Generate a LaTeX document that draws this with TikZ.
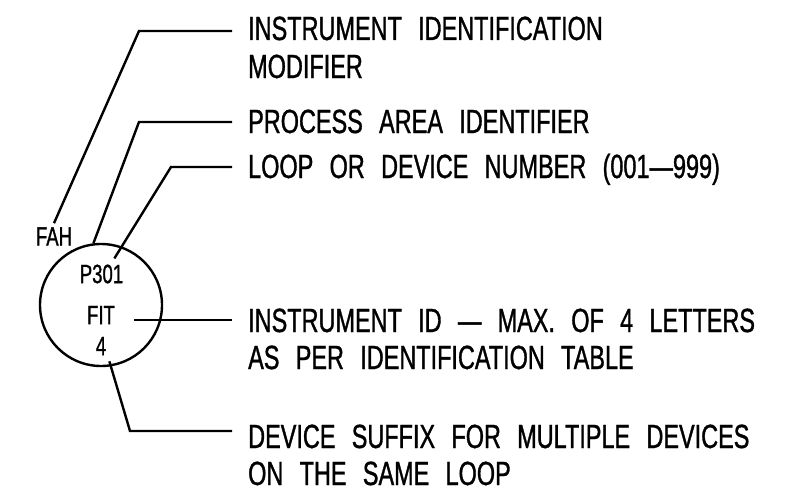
\documentclass[tikz,border=0pt]{standalone}
\usepackage{fontspec}
\setmainfont{Liberation Sans}[FakeStretch=0.7,WordSpace=2.5,FakeBold=1]

\begin{document}
\begin{tikzpicture}[x=1pt,y=-1pt,line width=2.4pt,
  note/.style={anchor=base west,inner sep=0pt,text height=24pt,text depth=0pt,
    font=\fontsize{33.5}{37}\selectfont},
  tagtext/.style={inner sep=0pt,font=\fontsize{26.5}{30}\selectfont}]
\useasboundingbox (0,0) rectangle (809,495);

% Instrument bubble
\node[draw,circle,minimum size=122pt,inner sep=0pt] (tag) at (101,305) {};
\node[tagtext] (num) at (101.5,274) {P301};
\node[tagtext] (fit) at (101,315) {FIT};
\node[tagtext] (four) at (101,346) {4};
\node[tagtext] (fah) at (54,236.5) {FAH};

% Notes on the right
\node[note] (modA) at (247,40) {INSTRUMENT IDENTIFICATION};
\node[note] (modB) at (247,78) {MODIFIER};
\node[note] (procA) at (247,133) {PROCESS AREA IDENTIFIER};
\node[note] (loopA) at (247,178) {LOOP OR DEVICE NUMBER (001—999)};
\node[note] (idA) at (247,332) {INSTRUMENT ID — MAX. OF 4 LETTERS};
\node[note] (idB) at (247,369) {AS PER IDENTIFICATION TABLE};
\node[note] (devA) at (247,448) {DEVICE SUFFIX FOR MULTIPLE DEVICES};
\node[note] (devB) at (247,485) {ON THE SAME LOOP};

% Leader bends
\coordinate (b1) at (139,31);
\coordinate (b2) at (139,122);
\coordinate (b3) at (171,167);
\coordinate (b5) at (130,431);

% Leaders
\draw ([yshift=3pt]fah.north) -- (b1) -- ([xshift=-15pt]b1 -| modA.west);
\draw (tag.97) -- (b2) -- ([xshift=-15pt]b2 -| procA.west);
\draw ([shift={(-10pt,5pt)}]num.north east) -- (b3) -- ([xshift=-15pt]b3 -| loopA.west);
\draw ([xshift=18pt]fit.east |- idA.west) -- ([xshift=-15pt]idA.west);
\draw ([shift={(2pt,-5pt)}]four.south east) -- (b5) -- ([xshift=-15pt]b5 -| devA.west);
\end{tikzpicture}
\end{document}
